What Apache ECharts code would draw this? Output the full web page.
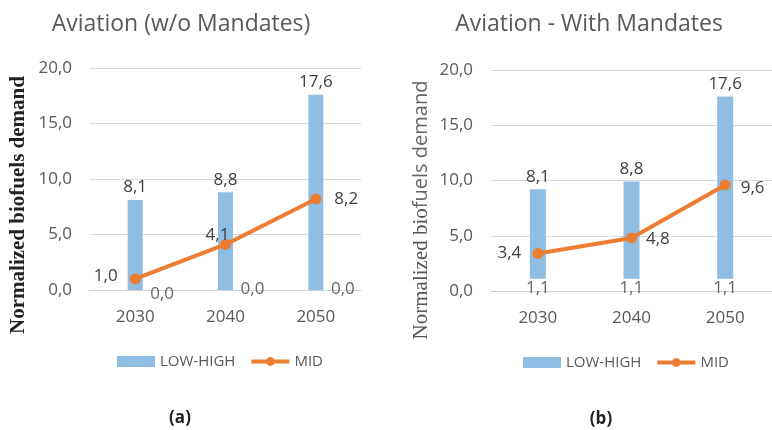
<!DOCTYPE html>
<html><head><meta charset="utf-8">
<script src="https://cdn.jsdelivr.net/npm/echarts@6/dist/echarts.min.js"></script>
<style>html,body{margin:0;padding:0;background:#fff}#c{width:772px;height:430px}</style>
</head><body><div id="c"></div>
<script>
const categories = ['2030', '2040', '2050'];
const leftTitle = 'Aviation (w/o Mandates)';
const rightTitle = 'Aviation - With Mandates';
const yAxisName = 'Normalized biofuels demand';
const yAxisNameParts = ['Normalized bio', 'fuels demand'];
const seriesNames = ['LOW-HIGH', 'MID'];
const panelLetters = ['(a)', '(b)'];

const leftLow = [0.0, 0.0, 0.0];
const leftHigh = [8.1, 8.8, 17.6];
const leftMid = [1.0, 4.1, 8.2];
const leftHighLabels = [8.1, 8.8, 17.6];
const leftLowLabels = [0.0, 0.0, 0.0];

const rightLow = [1.1, 1.1, 1.1];
const rightHigh = [9.2, 9.9, 17.6];
const rightMid = [3.4, 4.8, 9.6];
const rightHighLabels = [8.1, 8.8, 17.6];
const rightLowLabels = [1.1, 1.1, 1.1];

const yMin = 0, yMax = 20, yStep = 5;

const BLUE = '#8FBEE4', ORANGE = '#ED7D31', GRAY = '#595959', TXT = '#404040';
const SANS = '"Open Sans", sans-serif';
const fmt = v => v.toFixed(1).replace('.', ',');

const chart = echarts.init(document.getElementById('c'), null, {renderer: 'canvas'});

function xAx(gi) {
  return {
    type: 'category', gridIndex: gi, data: categories,
    axisTick: {show: false},
    axisLine: {lineStyle: {color: '#cfcfcf', width: 1}},
    axisLabel: {color: GRAY, fontSize: 17, fontFamily: SANS, margin: 19}
  };
}
function yAx(gi) {
  return {
    type: 'value', gridIndex: gi, min: yMin, max: yMax, interval: yStep,
    axisLine: {show: false}, axisTick: {show: false},
    splitLine: {lineStyle: {color: '#d9d9d9', width: 1}},
    axisLabel: {color: GRAY, fontSize: 17, fontFamily: SANS, margin: 18, formatter: v => fmt(v)}
  };
}

function panelSeries(ai, low, high, mid, highLabels, lowLabels, lowOffsets, midLabelCfg, barW) {
  const stack = 'st' + ai;
  return [
    {
      type: 'bar', name: 'base' + ai, xAxisIndex: ai, yAxisIndex: ai, stack: stack,
      data: low, barWidth: barW, silent: true,
      itemStyle: {color: 'rgba(0,0,0,0)'}
    },
    {
      type: 'bar', name: seriesNames[0], xAxisIndex: ai, yAxisIndex: ai, stack: stack,
      data: high.map((h, i) => +(h - low[i]).toFixed(2)), barWidth: barW,
      itemStyle: {color: BLUE},
      label: {
        show: true, position: 'top', distance: 4, color: TXT, fontSize: 17, fontFamily: SANS,
        formatter: p => fmt(highLabels[p.dataIndex])
      }
    },
    {
      type: 'scatter', name: 'lowlab' + ai, xAxisIndex: ai, yAxisIndex: ai,
      symbolSize: 0, silent: true, z: 5,
      data: low.map((v, i) => ({
        value: v,
        label: {show: true, position: 'inside', offset: lowOffsets[i], color: TXT, fontSize: 17, fontFamily: SANS,
          formatter: () => fmt(lowLabels[i])}
      }))
    },
    {
      type: 'line', name: seriesNames[1], xAxisIndex: ai, yAxisIndex: ai,
      symbol: 'circle', symbolSize: 11, z: 4,
      lineStyle: {color: ORANGE, width: 4},
      itemStyle: {color: ORANGE},
      data: mid.map((v, i) => ({
        value: v,
        label: Object.assign({show: true, color: TXT, fontSize: 17, fontFamily: SANS, formatter: p => fmt(p.value)}, midLabelCfg[i])
      }))
    }
  ];
}

const legendBase = {
  itemWidth: 38, itemHeight: 11, itemGap: 14,
  textStyle: {color: GRAY, fontSize: 15, fontFamily: SANS},
  data: [{name: seriesNames[0], icon: 'rect', itemStyle: {color: BLUE}},
         {name: seriesNames[1], lineStyle: {width: 4, color: ORANGE}, itemStyle: {color: ORANGE}}],
  selectedMode: false
};

// measure serif part for the mixed-font right axis name
const FONT_A = '21px "Liberation Serif", serif';
const FONT_B = '20px "Open Sans", sans-serif';
const mctx = document.createElement('canvas').getContext('2d');
mctx.font = FONT_A;
const wA = mctx.measureText(yAxisNameParts[0]).width;
mctx.font = FONT_B;
const wB = mctx.measureText(yAxisNameParts[1]).width;
const rStart = 210 + (wA + wB) / 2;

const option = {
  backgroundColor: '#fff',
  animation: false,
  title: [
    {text: leftTitle, left: 181, top: 13, textAlign: 'center', padding: 0,
      textStyle: {color: GRAY, fontSize: 23, fontWeight: 'normal', fontFamily: SANS}},
    {text: rightTitle, left: 589, top: 13, textAlign: 'center', padding: 0,
      textStyle: {color: GRAY, fontSize: 23, fontWeight: 'normal', fontFamily: SANS}}
  ],
  grid: [
    {left: 90, top: 68, width: 271, height: 222},
    {left: 491, top: 70, width: 283, height: 221}
  ],
  xAxis: [xAx(0), xAx(1)],
  yAxis: [yAx(0), yAx(1)],
  legend: [
    Object.assign({left: 112, top: 349}, legendBase),
    Object.assign({left: 518, top: 350}, legendBase)
  ],
  graphic: [
    {type: 'text', x: 19, y: 205, rotation: Math.PI / 2,
      style: {text: yAxisName, fill: '#222', font: 'bold 21px "Liberation Serif", serif',
        textAlign: 'center', textVerticalAlign: 'middle'}},
    {type: 'text', x: 421, y: rStart, rotation: Math.PI / 2,
      style: {text: yAxisNameParts[0], fill: '#555', font: FONT_A,
        textAlign: 'left', textVerticalAlign: 'middle'}},
    {type: 'text', x: 421, y: rStart - wA, rotation: Math.PI / 2,
      style: {text: yAxisNameParts[1], fill: '#666', font: FONT_B,
        textAlign: 'left', textVerticalAlign: 'middle'}},
    {type: 'text', x: 180, y: 418,
      style: {text: panelLetters[0], fill: '#222', font: 'bold 17px "Open Sans", sans-serif',
        textAlign: 'center', textVerticalAlign: 'middle'}},
    {type: 'text', x: 601, y: 419,
      style: {text: panelLetters[1], fill: '#222', font: 'bold 17px "Open Sans", sans-serif',
        textAlign: 'center', textVerticalAlign: 'middle'}}
  ],
  series: [].concat(
    panelSeries(0, leftLow, leftHigh, leftMid, leftHighLabels, leftLowLabels,
      [[27, 4], [27, -1], [27, -1]],
      [{position: 'left', distance: 12, offset: [0, -3]},
       {position: 'inside', offset: [-8, -9]},
       {position: 'right', distance: 13}], 15),
    panelSeries(1, rightLow, rightHigh, rightMid, rightHighLabels, rightLowLabels,
      [[0, 9], [0, 9], [0, 9]],
      [{position: 'left', distance: 11},
       {position: 'right', distance: 9, offset: [0, 1]},
       {position: 'right', distance: 10, offset: [0, 3]}], 16)
  )
};
chart.setOption(option);
</script>
</body></html>
